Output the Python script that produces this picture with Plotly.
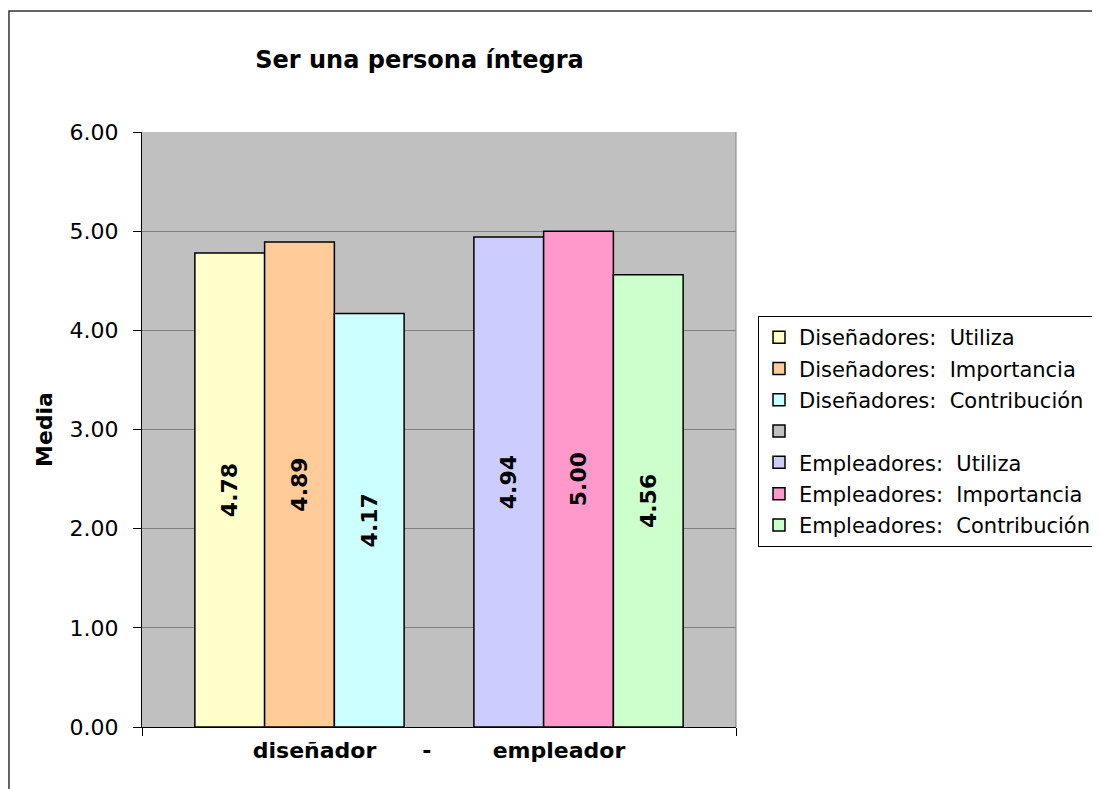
import plotly.graph_objects as go

NB = "\u00a0"
categoria = ["diseñador" + NB * 6 + "-" + NB * 8 + "empleador"]

series = [
    "Diseñadores:  Utiliza",
    "Diseñadores:  Importancia",
    "Diseñadores:  Contribución",
    " ",
    "Empleadores:  Utiliza",
    "Empleadores:  Importancia",
    "Empleadores:  Contribución",
]
medias = [4.78, 4.89, 4.17, None, 4.94, 5.00, 4.56]
colores = ["#FFFFCC", "#FFCC99", "#CCFFFF", "#C0C0C0", "#CCCCFF", "#FF99CC", "#CCFFCC"]

FONT = "DejaVu Sans"

# page is drawn with an 8px body offset, so the figure is laid out 8px up/left
W, H = 1100, 789
L, R, T, B = 134, 729, 124, 719
PW, PH = R - L, B - T

fig = go.Figure()
for i, (nombre, valor, color) in enumerate(zip(series, medias, colores)):
    fig.add_trace(go.Bar(
        x=categoria, y=[valor], name=nombre,
        marker=dict(color=color, line=dict(color="black", width=1.5)),
        text=[f"{valor:.2f}" if valor is not None else ""],
        textposition="inside", insidetextanchor="middle",
        textangle=-90, constraintext="none",
        textfont=dict(family=FONT, size=22, color="black", weight="bold"),
        legendgroup=f"g{i}",
    ))

fig.update_layout(
    width=W, height=H,
    margin=dict(l=L, r=W - R, t=T, b=H - B),
    paper_bgcolor="white", plot_bgcolor="#C0C0C0",
    barmode="group", bargap=0.178, bargroupgap=0,
    font=dict(family=FONT, color="black"),
    title=dict(text="<b>Ser una persona íntegra</b>", x=411.5 / W, xref="container",
               y=1 - 52 / H, yanchor="middle", xanchor="center",
               font=dict(family=FONT, size=24, color="black")),
    legend=dict(x=(750 - L) / PW, y=(B - 308) / PH, xanchor="left", yanchor="top",
                bgcolor="white", bordercolor="black", borderwidth=1,
                font=dict(family=FONT, size=21, color="black"),
                traceorder="grouped", tracegroupgap=1, itemwidth=30),
    showlegend=True,
)

fig.update_yaxes(
    range=[0, 6], dtick=1, tickformat=".2f",
    showgrid=True, gridcolor="#808080", gridwidth=1,
    showline=True, linecolor="black", linewidth=1,
    ticks="outside", ticklen=8, tickcolor="black",
    tickfont=dict(family=FONT, size=22, color="black"),
    ticklabelstandoff=10,
    title=dict(text="<b>Media</b>", font=dict(family=FONT, size=22, color="black"), standoff=10),
    zeroline=False,
)
fig.update_xaxes(
    showline=True, linecolor="black", linewidth=1,
    ticks="outside", tickson="boundaries", ticklen=8, tickcolor="black",
    tickfont=dict(family=FONT, size=22, color="black", weight="bold"),
    ticklabelstandoff=4,
)

# plot area right border and chart border
fig.add_shape(type="line", xref="paper", yref="paper", x0=1, x1=1, y0=0, y1=1,
              line=dict(color="#808080", width=1))
fig.add_shape(type="rect", xref="paper", yref="paper",
              x0=(0.75 - L) / PW, x1=(W + 20 - L) / PW,
              y0=(B - H - 20) / PH, y1=(B - 3) / PH,
              line=dict(color="#333333", width=1.5), layer="below")

fig.write_html("out.html")
